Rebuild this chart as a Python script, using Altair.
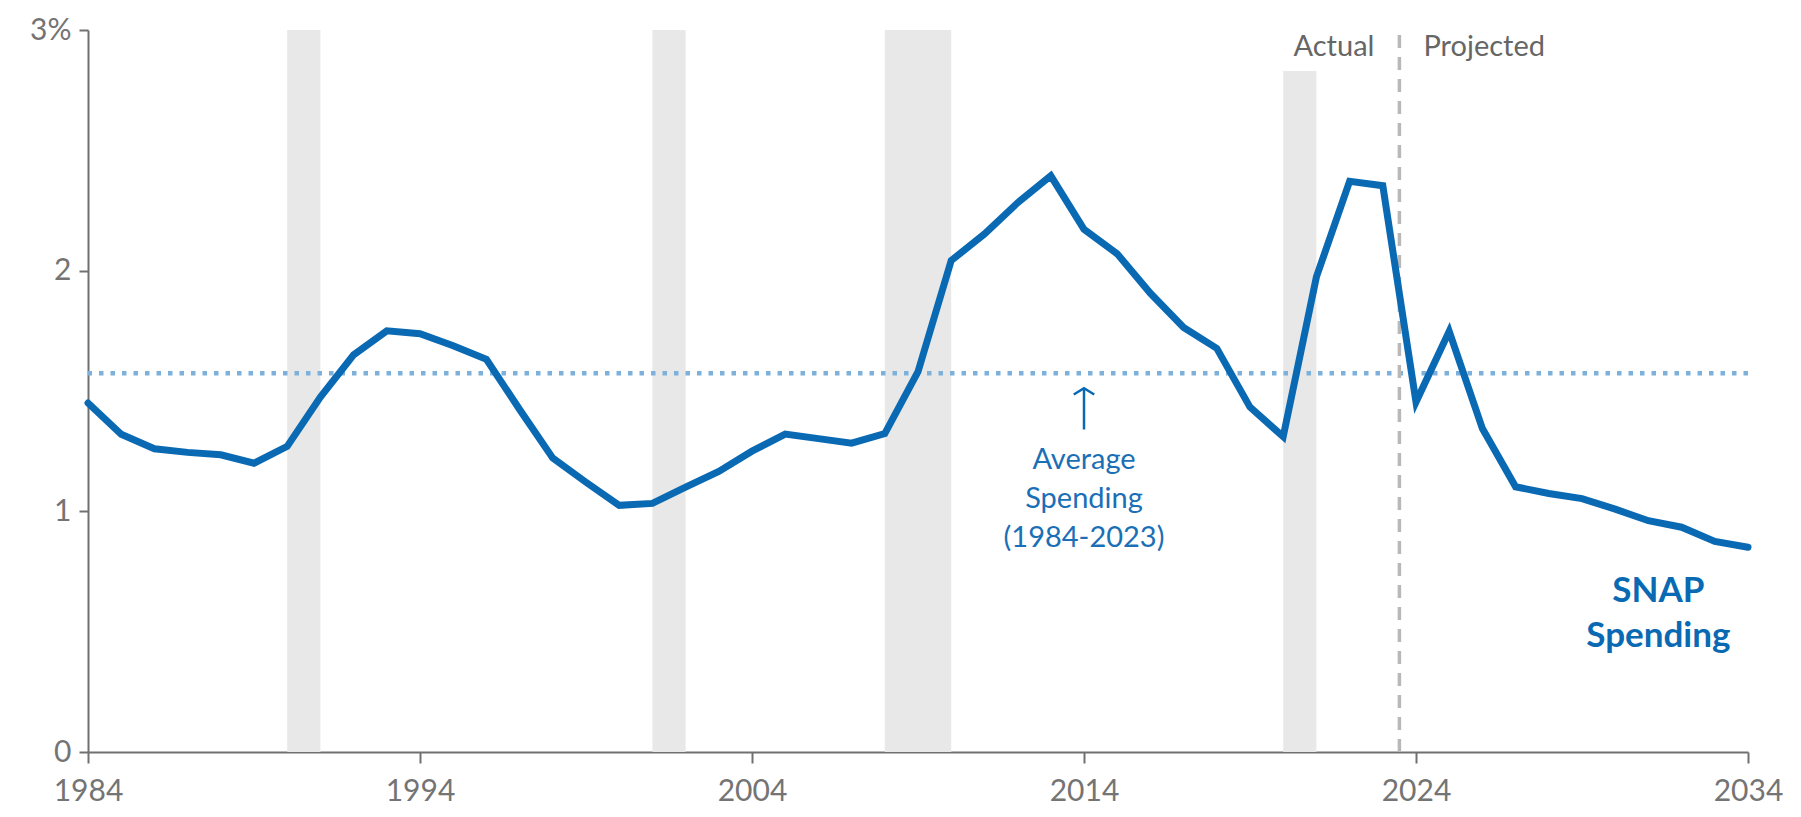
import altair as alt
import pandas as pd

years = list(range(1984, 2035))
spending = [1.45, 1.32, 1.26, 1.245, 1.235, 1.20, 1.27, 1.475, 1.65, 1.75,
            1.738, 1.688, 1.632, 1.423, 1.221, 1.121, 1.025, 1.033, 1.101, 1.166,
            1.25, 1.321, 1.302, 1.283, 1.323, 1.58, 2.042, 2.152, 2.282, 2.394,
            2.172, 2.07, 1.906, 1.764, 1.677, 1.433, 1.31, 1.974, 2.371, 2.353,
            1.454, 1.748, 1.344, 1.102, 1.074, 1.053, 1.009, 0.961, 0.934, 0.875,
            0.851]

rec_start = [1990, 2001, 2008, 2020]
rec_end = [1991, 2002, 2010, 2021]
rec_top = [3.0, 3.0, 3.0, 2.83]

split_year = [2023.5]
x_ticks = [1984, 1994, 2004, 2014, 2024, 2034]
y_ticks = [0, 1, 2, 3]

avg_years = [y for y in years if y <= 2023]
avg_value = sum(v for y, v in zip(years, spending) if y <= 2023) / len(avg_years)

BLUE = "#0A69B3"
LIGHT_BLUE = "#7DB1DB"
GRAY_TXT = "#747474"
FONT = "Lato"

df = pd.DataFrame({"year": years, "value": spending})
rec = pd.DataFrame({"start": rec_start, "end": rec_end, "top": rec_top, "bottom": [0] * 4})
avg_df = pd.DataFrame({"avg": [avg_value]})
split_df = pd.DataFrame({"split": split_year, "top": [3.0], "bottom": [0.0]})

xs = alt.Scale(domain=[1984, 2034], nice=False, zero=False)
ys = alt.Scale(domain=[0, 3], nice=False, zero=True)

xaxis = alt.Axis(values=x_ticks, format="d", labelFontSize=30, labelFont=FONT,
                 labelColor=GRAY_TXT, domainColor="#707070", domainWidth=2,
                 tickColor="#707070", tickWidth=2, tickSize=11, labelPadding=13,
                 grid=False, labelFlush=False, title=None)
yaxis = alt.Axis(values=y_ticks, labelExpr="datum.value == 3 ? '3%' : datum.label",
                 labelFontSize=30, labelFont=FONT, labelColor=GRAY_TXT,
                 domainColor="#707070", domainWidth=2, tickColor="#707070",
                 tickWidth=2, tickSize=9, labelPadding=8, grid=False, title=None)


def X(field):
    return alt.X(field, scale=xs, axis=xaxis, title=None)


def Y(field):
    return alt.Y(field, scale=ys, axis=yaxis, title=None)


bands = alt.Chart(rec).mark_rect(color="#E8E8E8").encode(
    x=X("start:Q"), x2="end:Q", y=Y("bottom:Q"), y2="top:Q",
)

avg_rule = alt.Chart(avg_df).mark_rule(
    color=LIGHT_BLUE, strokeDash=[4.5, 7], strokeWidth=4.5
).encode(y=Y("avg:Q"))

split_rule = alt.Chart(split_df).mark_rule(
    color="#B8B8B8", strokeDash=[13, 9], strokeWidth=3.5
).encode(x=X("split:Q"), y=Y("bottom:Q"), y2="top:Q")

line = alt.Chart(df).mark_line(
    color=BLUE, strokeWidth=7, strokeCap="round", strokeJoin="miter"
).encode(x=X("year:Q"), y=Y("value:Q"))

ann_df = pd.DataFrame({"x": [2014.0], "y0": [1.34], "y1": [1.512]})
arrow_stem = alt.Chart(ann_df).mark_rule(color=BLUE, strokeWidth=2.5).encode(
    x=X("x:Q"), y=Y("y0:Q"), y2="y1:Q",
)
arrow_head = alt.Chart(ann_df).mark_point(
    shape="M-1,0.62L0,0L1,0.62", filled=False, color=BLUE, strokeWidth=2.5, size=420, opacity=1
).encode(x=X("x:Q"), y=Y("y1:Q"))

avg_text = alt.Chart(ann_df).mark_text(
    text=["Average", "Spending", "(1984-2023)"], font=FONT, fontSize=29, color="#1B6FB6",
    align="center", baseline="middle", lineHeight=39
).encode(x=X("x:Q"), y=Y("ty:Q")).transform_calculate(ty="1.213")

actual_text = alt.Chart(split_df).mark_text(
    text="Actual", font=FONT, fontSize=29, color="#666666", align="right",
    baseline="middle", dx=-25
).encode(x=X("split:Q"), y=Y("ty:Q")).transform_calculate(ty="2.93")

proj_text = alt.Chart(split_df).mark_text(
    text="Projected", font=FONT, fontSize=29, color="#666666", align="left",
    baseline="middle", dx=24
).encode(x=X("split:Q"), y=Y("ty:Q")).transform_calculate(ty="2.93")

snap_text = alt.Chart(split_df).mark_text(
    text=["SNAP", "Spending"], font=FONT, fontSize=35, fontWeight="bold", color=BLUE,
    align="center", baseline="alphabetic", lineHeight=45
).encode(x=X("tx:Q"), y=Y("ty:Q")).transform_calculate(tx="2031.3", ty="0.625")

chart = alt.layer(
    bands, avg_rule, split_rule, line, arrow_stem, arrow_head,
    avg_text, actual_text, proj_text, snap_text
).properties(
    width=1660, height=722,
    autosize=alt.AutoSizeParams(type="none"),
    padding={"left": 80, "top": 22, "right": 45, "bottom": 60},
).configure_view(stroke=None).configure_axis(grid=False)

chart.save("out.html", embed_options={"renderer": "svg", "actions": False})
